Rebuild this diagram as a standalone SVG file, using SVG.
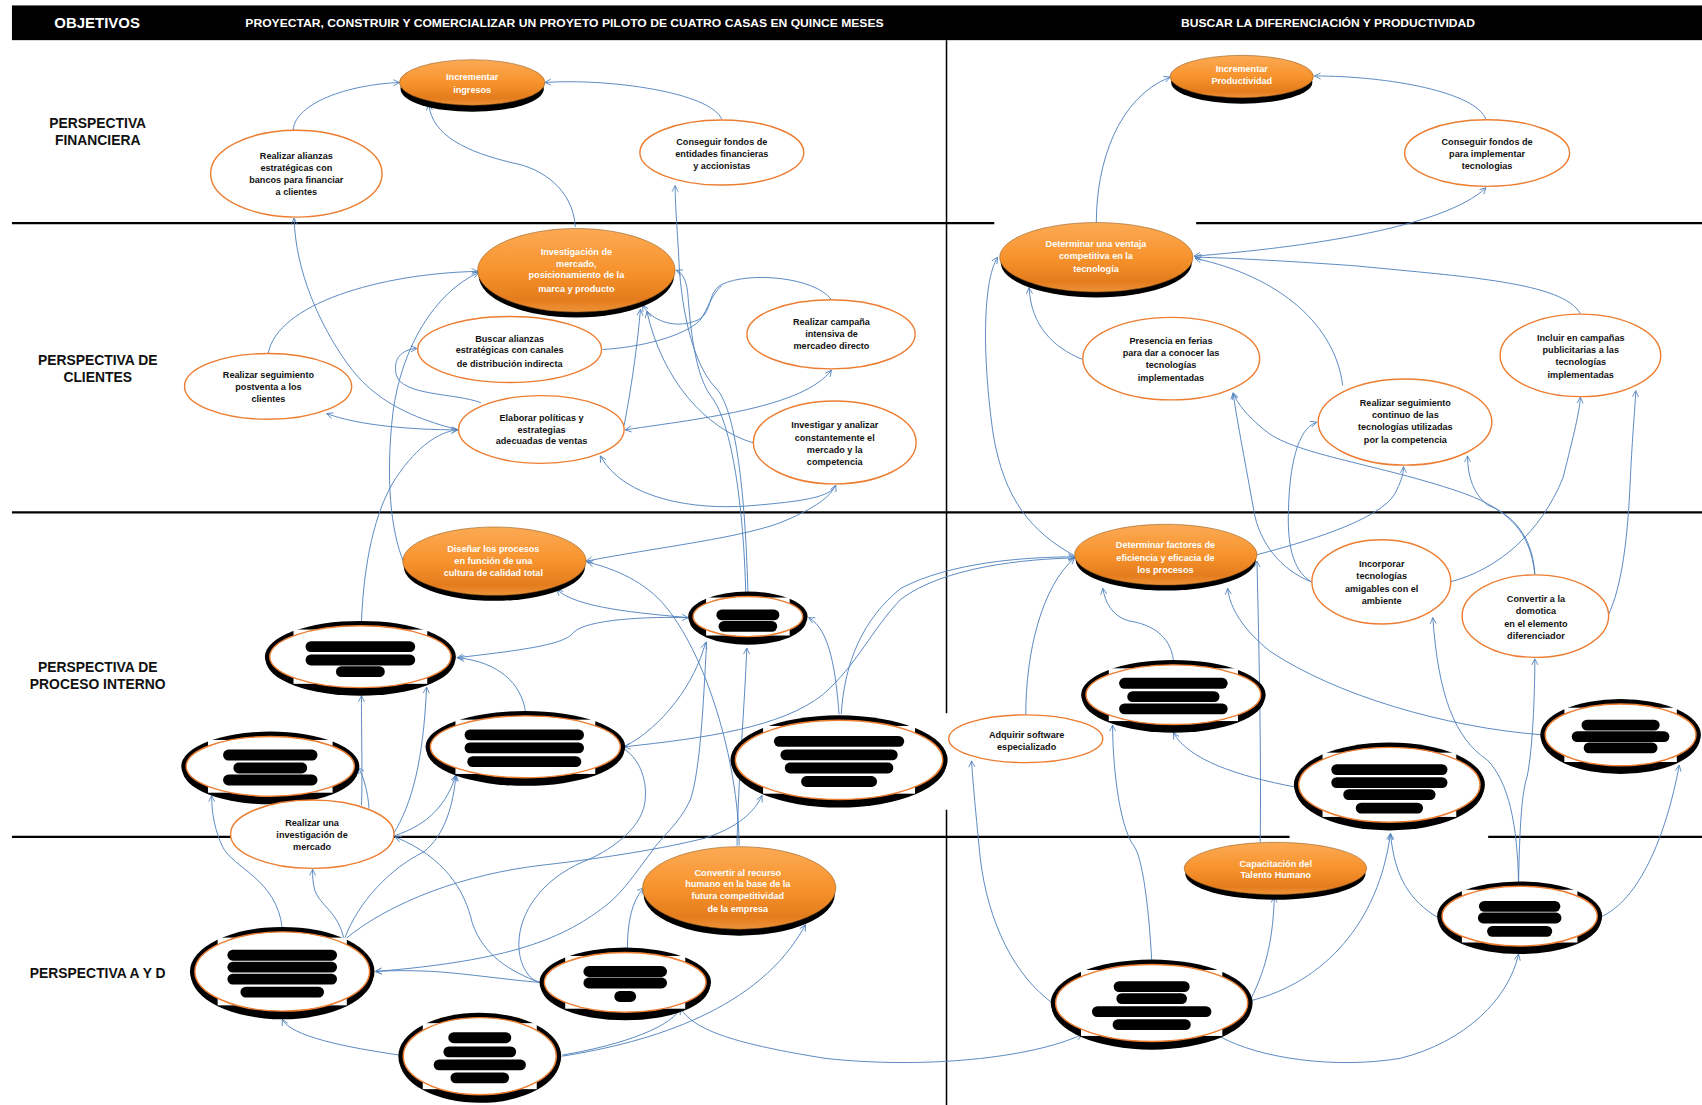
<svg xmlns="http://www.w3.org/2000/svg" width="1702" height="1105" viewBox="0 0 1702 1105">
<defs>
  <linearGradient id="og" x1="0" y1="0" x2="0" y2="1">
    <stop offset="0" stop-color="#FCAA55"/>
    <stop offset="0.5" stop-color="#F7932D"/>
    <stop offset="0.85" stop-color="#E47C1D"/>
    <stop offset="1" stop-color="#EE9238"/>
  </linearGradient>
  <marker id="ah" viewBox="0 0 10 10" refX="9" refY="5" markerWidth="7" markerHeight="7" markerUnits="userSpaceOnUse" orient="auto-start-reverse">
    <path d="M1,1 L9,5 L1,9" fill="none" stroke="#4F81BD" stroke-width="1.1"/>
  </marker>
  <style>
    .ln{stroke:#000;stroke-width:2;fill:none}
    .dv{stroke:#000;stroke-width:1.4;fill:none}
    .c{fill:none;stroke:#4F81BD;stroke-width:0.85}
    .e{marker-end:url(#ah)}
    .b{marker-start:url(#ah);marker-end:url(#ah)}
    .s{marker-start:url(#ah)}
    .sh{fill:#000}
    .or{fill:url(#og);stroke:#8a5316;stroke-width:0.5}
    .wn{fill:#fff;stroke:#ED7D31;stroke-width:1.3}
    .k{fill:#000}
    .wf{fill:#fff}
    .oi{fill:none;stroke:#ED7D31;stroke-width:1.3}
    .bl{fill:#000}
    .t{font-family:"Liberation Sans",Arial,sans-serif;font-size:8.4px;font-weight:bold;fill:#111;text-anchor:middle}
    .tw{fill:#fff}
    .lab{font-family:"Liberation Sans",Arial,sans-serif;font-size:12.8px;font-weight:bold;fill:#111;text-anchor:middle}
    .hd{font-family:"Liberation Sans",Arial,sans-serif;font-weight:bold;fill:#fff}
  </style>
</defs>
<rect width="1702" height="1105" fill="#fff"/>
<g transform="scale(1.085459)">

<!-- header bar -->
<g id="header">
  <rect x="11" y="5" width="1557" height="32" fill="#000"/>
  <text class="hd" x="50" y="26" font-size="13" textLength="79" lengthAdjust="spacingAndGlyphs">OBJETIVOS</text>
  <text class="hd" x="226" y="25" font-size="10.5" textLength="588" lengthAdjust="spacingAndGlyphs">PROYECTAR, CONSTRUIR Y COMERCIALIZAR UN PROYETO PILOTO DE CUATRO CASAS EN QUINCE MESES</text>
  <text class="hd" x="1088" y="25" font-size="10.5" textLength="271" lengthAdjust="spacingAndGlyphs">BUSCAR LA DIFERENCIACIÓN Y PRODUCTIVIDAD</text>
</g>

<!-- grid lines -->
<g id="grid">
  <path class="ln" d="M11,205.5 H916 M1102,205.5 H1568"/>
  <path class="ln" d="M11,472 H1568"/>
  <path class="ln" d="M11,771 H1188 M1371,771 H1568"/>
  <path class="dv" d="M872,37 V657 M872,746 V1018"/>
</g>

<!-- row labels -->
<g id="labels">
  <text class="lab" x="90" y="118">PERSPECTIVA</text>
  <text class="lab" x="90" y="134">FINANCIERA</text>
  <text class="lab" x="90" y="336">PERSPECTIVA DE</text>
  <text class="lab" x="90" y="352">CLIENTES</text>
  <text class="lab" x="90" y="619">PERSPECTIVA DE</text>
  <text class="lab" x="90" y="635">PROCESO INTERNO</text>
  <text class="lab" x="90" y="901">PERSPECTIVA A Y D</text>
</g>

<!-- connectors -->
<g id="connectors">
  <path class="c e" d="M270,120 C272,95 320,78 368,76"/>
  <path class="c e" d="M665,110 C655,85 560,72 502,76"/>
  <path class="c e" d="M530,209 C528,175 500,155 472,150 C430,140 398,125 395,96"/>
  <path class="c e" d="M689,545 C687,470 680,380 660,358 C642,340 630,300 626,250 C624,210 622,190 622,171"/>
  <path class="c e" d="M687,545 C685,470 675,390 655,365 C640,345 636,300 634,275 C633,260 630,252 623,249"/>
  <path class="c e" d="M1010,205 C1010,150 1030,90 1078,71"/>
  <path class="c e" d="M1369,110 C1360,85 1280,70 1211,70"/>
  <path class="c b" d="M1100,236 C1200,228 1330,210 1369,173"/>
  <path class="c e" d="M247,326 C255,280 350,252 440,250"/>
  <path class="c e" d="M422,396 C380,385 345,370 320,335 C295,300 272,250 271,201"/>
  <path class="c b" d="M301,381 C330,392 380,396 422,396"/>
  <path class="c e" d="M443,371 C420,362 370,365 365,345 C362,330 370,322 384,321"/>
  <path class="c e" d="M766,276 C750,255 690,250 665,262 C650,270 658,290 640,296 C620,303 600,295 592,281"/>
  <path class="c" d="M555,322 C590,320 630,310 645,295 C652,285 655,272 665,263"/>
  <path class="c e" d="M575,392 C583,350 588,310 590,285"/>
  <path class="c e" d="M694,408 C650,395 610,350 596,287"/>
  <path class="c b" d="M576,396 C650,385 740,375 766,341"/>
  <path class="c b" d="M553,420 C575,460 640,470 690,466 C740,462 765,458 770,447"/>
  <path class="c e" d="M333,573 C335,520 345,470 365,440 C385,410 405,398 421,396"/>
  <path class="c e" d="M372,518 C360,490 355,440 362,380 C370,320 400,270 441,251"/>
  <path class="c s" d="M540,517 C600,505 690,495 725,479 C750,468 765,458 769,448"/>
  <path class="c e" d="M681,779 C680,700 650,600 610,555 C590,533 560,522 541,518"/>
  <path class="c e" d="M679,779 C680,720 686,650 688,597"/>
  <path class="c e" d="M634,569 C590,565 530,560 513,543"/>
  <path class="c b" d="M421,606 C470,600 520,595 528,583 C540,570 600,568 634,569"/>
  <path class="c e" d="M773,658 C770,620 765,580 745,569"/>
  <path class="c e" d="M775,658 C778,610 795,570 830,542 C875,518 945,513 990,513"/>
  <path class="c b" d="M575,688 C650,680 720,670 758,640 C790,612 803,580 830,552 C870,522 945,515 990,514"/>
  <path class="c e" d="M575,688 C610,670 640,630 650,592"/>
  <path class="c" d="M575,690 C590,700 597,720 594,740 C590,765 560,785 537,794 C500,810 478,840 478,870 C478,890 488,903 497,905"/>
  <path class="c e" d="M484,655 C480,630 460,610 422,606"/>
  <path class="c e" d="M362,769 C380,740 390,700 393,633"/>
  <path class="c e" d="M363,770 C395,760 412,740 420,714"/>
  <path class="c e" d="M340,745 C339,730 335,715 330,707"/>
  <path class="c e" d="M333,742 C334,720 333,680 333,641"/>
  <path class="c e" d="M260,855 C255,810 215,800 205,780 C198,765 195,750 195,733"/>
  <path class="c e" d="M317,866 C312,840 295,835 290,820 C288,812 288,808 288,801"/>
  <path class="c e" d="M317,866 C330,830 360,800 390,785 C410,770 418,740 420,714"/>
  <path class="c e" d="M317,866 C360,830 430,805 500,797 C560,790 610,782 650,772 C680,762 695,748 702,733"/>
  <path class="c e" d="M651,591 C648,650 645,710 636,737 C625,760 610,770 600,785 C585,805 575,820 561,832 C520,865 470,885 346,895"/>
  <path class="c e" d="M497,905 C470,903 430,897 400,895 C380,894 360,894 346,895"/>
  <path class="c e" d="M497,905 C470,895 445,880 435,850 C428,820 410,790 364,771"/>
  <path class="c e" d="M578,874 C578,850 582,830 593,818"/>
  <path class="c e" d="M368,972 C320,965 268,955 260,939"/>
  <path class="c e" d="M518,972 C560,965 615,950 627,929"/>
  <path class="c e" d="M518,973 C600,960 700,930 742,852"/>
  <path class="c e" d="M627,929 C640,950 680,962 760,975 C850,985 950,975 997,953"/>
  <path class="c e" d="M971,925 C935,900 910,850 903,790 C898,740 896,715 895,701"/>
  <path class="c e" d="M1061,884 C1058,830 1052,790 1045,780 C1030,760 1025,700 1025,668"/>
  <path class="c e" d="M1152,921 C1168,890 1173,860 1174,826"/>
  <path class="c e" d="M1152,922 C1220,905 1270,850 1281,768"/>
  <path class="c e" d="M1324,845 C1300,830 1285,810 1281,768"/>
  <path class="c e" d="M1124,955 C1160,975 1230,985 1290,975 C1350,960 1390,920 1399,879"/>
  <path class="c e" d="M1161,776 C1162,700 1160,600 1158,517"/>
  <path class="c e" d="M1399,814 C1398,760 1390,720 1370,700 C1340,680 1325,640 1320,569"/>
  <path class="c e" d="M1399,814 C1400,760 1402,730 1407,715 C1412,690 1414,640 1414,607"/>
  <path class="c e" d="M1474,845 C1510,830 1535,770 1547,705"/>
  <path class="c e" d="M1421,677 C1330,670 1230,640 1170,600 C1145,580 1133,560 1131,542"/>
  <path class="c e" d="M1193,725 C1140,715 1095,700 1081,675"/>
  <path class="c e" d="M1081,608 C1078,585 1060,575 1040,572 C1025,568 1018,555 1016,542"/>
  <path class="c e" d="M945,659 C945,600 960,540 990,514"/>
  <path class="c e" d="M990,512 C950,490 925,460 915,400 C905,330 905,260 919,237"/>
  <path class="c e" d="M997,331 C970,320 950,300 948,265"/>
  <path class="c e" d="M1456,289 C1440,260 1350,255 1250,245 C1180,240 1120,237 1101,237"/>
  <path class="c e" d="M1237,355 C1230,300 1180,255 1101,238"/>
  <path class="c e" d="M1208,536 C1180,525 1160,500 1155,470 C1148,430 1140,390 1136,362"/>
  <path class="c e" d="M1414,529 C1410,490 1390,470 1350,455 C1280,430 1200,420 1170,400 C1150,385 1140,372 1136,362"/>
  <path class="c e" d="M1208,536 C1190,525 1186,500 1187,470 C1188,430 1195,395 1213,389"/>
  <path class="c e" d="M1158,511 C1200,500 1270,480 1285,455 C1290,445 1293,438 1293,430"/>
  <path class="c e" d="M1414,529 C1412,495 1395,475 1370,465 C1358,455 1352,440 1352,420"/>
  <path class="c e" d="M1336,536 C1380,525 1420,490 1440,440 C1450,400 1455,380 1456,366"/>
  <path class="c e" d="M1481,568 C1495,540 1500,490 1502,440 C1504,400 1506,380 1507,360"/>
</g>

<!-- financial perspective -->
<g id="n1">
  <ellipse class="sh" cx="435" cy="82" rx="66" ry="21"/>
  <ellipse class="or" cx="435" cy="76" rx="67" ry="21"/>
  <text class="t tw" x="435" y="74">Incrementar</text>
  <text class="t tw" x="435" y="85.5">ingresos</text>
</g>
<g id="n2">
  <ellipse class="wn" cx="273" cy="160" rx="79" ry="40"/>
  <text class="t" x="273" y="146.5">Realizar  alianzas</text>
  <text class="t" x="273" y="157.5">estratégicas con</text>
  <text class="t" x="273" y="168.5">bancos  para financiar</text>
  <text class="t" x="273" y="180">a clientes</text>
</g>
<g id="n3">
  <ellipse class="wn" cx="665" cy="140.5" rx="75.5" ry="30"/>
  <text class="t" x="665" y="133.5">Conseguir fondos de</text>
  <text class="t" x="665" y="144.5">entidades financieras</text>
  <text class="t" x="665" y="155.5">y accionistas</text>
</g>
<g id="n4">
  <ellipse class="sh" cx="1144" cy="76" rx="65" ry="19.5"/>
  <ellipse class="or" cx="1144" cy="70.5" rx="66" ry="19.5"/>
  <text class="t tw" x="1144" y="66.5">Incrementar</text>
  <text class="t tw" x="1144" y="77.5">Productividad</text>
</g>
<g id="n5">
  <ellipse class="wn" cx="1370" cy="141" rx="76" ry="30.7"/>
  <text class="t" x="1370" y="133.5">Conseguir fondos de</text>
  <text class="t" x="1370" y="144.5">para implementar</text>
  <text class="t" x="1370" y="155.5">tecnologias</text>
</g>

<!-- customer perspective -->
<g id="n6">
  <ellipse class="sh" cx="531" cy="254" rx="90" ry="38.5"/>
  <ellipse class="or" cx="531" cy="249" rx="91" ry="38.5"/>
  <text class="t tw" x="531" y="235">Investigación  de</text>
  <text class="t tw" x="531" y="245.6">mercado,</text>
  <text class="t tw" x="531" y="256.4">posicionamiento de la</text>
  <text class="t tw" x="531" y="268.6">marca y producto</text>
</g>
<g id="n7">
  <ellipse class="wn" cx="469.5" cy="322" rx="84.7" ry="30.4"/>
  <text class="t" x="469.5" y="314.7">Buscar  alianzas</text>
  <text class="t" x="469.5" y="325.4">estratégicas con canales</text>
  <text class="t" x="469.5" y="337.7">de distribución indirecta</text>
</g>
<g id="n8">
  <ellipse class="wn" cx="765.6" cy="308" rx="77.5" ry="31.8"/>
  <text class="t" x="766" y="299.3">Realizar  campaña</text>
  <text class="t" x="766" y="310.7">intensiva de</text>
  <text class="t" x="766" y="321.8">mercadeo directo</text>
</g>
<g id="n9">
  <ellipse class="wn" cx="247" cy="356" rx="77" ry="30.3"/>
  <text class="t" x="247.3" y="348.5">Realizar  seguimiento</text>
  <text class="t" x="247.3" y="359.2">postventa a los</text>
  <text class="t" x="247.3" y="370.6">clientes</text>
</g>
<g id="n10">
  <ellipse class="wn" cx="498.7" cy="395.7" rx="76.3" ry="31.2"/>
  <text class="t" x="498.9" y="387.5">Elaborar  políticas y</text>
  <text class="t" x="498.9" y="398.5">estrategias</text>
  <text class="t" x="498.9" y="409">adecuadas  de ventas</text>
</g>
<g id="n11">
  <ellipse class="wn" cx="769" cy="407.6" rx="75" ry="38.2"/>
  <text class="t" x="769" y="394.5">Investigar  y analizar</text>
  <text class="t" x="769" y="405.9">constantemente el</text>
  <text class="t" x="769" y="416.9">mercado y la</text>
  <text class="t" x="769" y="428.3">competencia</text>
</g>
<g id="n12">
  <ellipse class="sh" cx="1010" cy="242" rx="88" ry="32"/>
  <ellipse class="or" cx="1010" cy="237" rx="89" ry="32"/>
  <text class="t tw" x="1009.7" y="227.8">Determinar una ventaja</text>
  <text class="t tw" x="1009.7" y="238.8">competitiva en la</text>
  <text class="t tw" x="1009.7" y="250.2">tecnología</text>
</g>
<g id="n13">
  <ellipse class="wn" cx="1079" cy="330.4" rx="81.5" ry="38"/>
  <text class="t" x="1078.8" y="317">Presencia en ferias</text>
  <text class="t" x="1078.8" y="328">para dar a conocer las</text>
  <text class="t" x="1078.8" y="339">tecnologías</text>
  <text class="t" x="1078.8" y="351">implementadas</text>
</g>
<g id="n14">
  <ellipse class="wn" cx="1456" cy="327.4" rx="74" ry="38"/>
  <text class="t" x="1456.3" y="314.4">Incluir  en campañas</text>
  <text class="t" x="1456.3" y="325.4">publicitarias  a las</text>
  <text class="t" x="1456.3" y="336.5">tecnologías</text>
  <text class="t" x="1456.3" y="348.5">implementadas</text>
</g>
<g id="n15">
  <ellipse class="wn" cx="1294.4" cy="388.8" rx="80" ry="39.7"/>
  <text class="t" x="1294.7" y="374.3">Realizar  seguimiento</text>
  <text class="t" x="1294.7" y="385.3">continuo de las</text>
  <text class="t" x="1294.7" y="396.4">tecnologías  utilizadas</text>
  <text class="t" x="1294.7" y="408.3">por la competencia</text>
</g>

<!-- internal process perspective -->
<g id="n16">
  <ellipse class="sh" cx="455.5" cy="522" rx="83.5" ry="31.5"/>
  <ellipse class="or" cx="455.5" cy="517" rx="84.5" ry="31.5"/>
  <text class="t tw" x="454.5" y="509">Diseñar los procesos</text>
  <text class="t tw" x="454.5" y="519.8">en función  de una</text>
  <text class="t tw" x="454.5" y="530.6">cultura de calidad  total</text>
</g>
<g id="n17">
  <ellipse class="k" cx="689" cy="571" rx="54" ry="23"/>
  <ellipse class="k" cx="689" cy="568" rx="55" ry="23"/>
  <ellipse class="wf" cx="689" cy="568" rx="50.5" ry="18.5"/>
  <rect class="wf" x="650.5" y="550.5" width="77" height="35"/>
  <ellipse class="oi" cx="689" cy="568" rx="50.5" ry="18.5"/>
  <rect class="bl" x="660" y="561.5" width="58" height="10" rx="5"/>
  <rect class="bl" x="662" y="572" width="54" height="10" rx="5"/>
</g>
<g id="n18">
  <ellipse class="k" cx="332" cy="608" rx="87" ry="33"/>
  <ellipse class="k" cx="332" cy="605" rx="88" ry="33"/>
  <ellipse class="wf" cx="332" cy="605" rx="83.5" ry="28.5"/>
  <rect class="wf" x="270.4" y="580" width="123.2" height="50"/>
  <ellipse class="oi" cx="332" cy="605" rx="83.5" ry="28.5"/>
  <rect class="bl" x="281.5" y="590.7" width="101" height="10" rx="5"/>
  <rect class="bl" x="281.5" y="603" width="101" height="10" rx="5"/>
  <rect class="bl" x="309.5" y="613.8" width="45" height="10" rx="5"/>
</g>
<g id="n19">
  <ellipse class="k" cx="249" cy="709" rx="81" ry="32"/>
  <ellipse class="k" cx="249" cy="706" rx="82" ry="32"/>
  <ellipse class="wf" cx="249" cy="706" rx="77.5" ry="27.5"/>
  <rect class="wf" x="191.6" y="681.7" width="114.8" height="48.6"/>
  <ellipse class="oi" cx="249" cy="706" rx="77.5" ry="27.5"/>
  <rect class="bl" x="205.5" y="690.6" width="87" height="10" rx="5"/>
  <rect class="bl" x="215" y="702.5" width="68" height="10" rx="5"/>
  <rect class="bl" x="205.5" y="713.6" width="87" height="10" rx="5"/>
</g>
<g id="n20">
  <ellipse class="k" cx="484" cy="691" rx="91" ry="33"/>
  <ellipse class="k" cx="484" cy="688" rx="92" ry="33"/>
  <ellipse class="wf" cx="484" cy="688" rx="87.5" ry="28.5"/>
  <rect class="wf" x="419.6" y="663" width="128.8" height="50"/>
  <ellipse class="oi" cx="484" cy="688" rx="87.5" ry="28.5"/>
  <rect class="bl" x="428" y="672" width="110" height="10" rx="5"/>
  <rect class="bl" x="428" y="684" width="110" height="10" rx="5"/>
  <rect class="bl" x="430.5" y="696.7" width="105" height="10" rx="5"/>
</g>
<g id="n21">
  <ellipse class="k" cx="773" cy="703" rx="99" ry="41"/>
  <ellipse class="k" cx="773" cy="700" rx="100" ry="41"/>
  <ellipse class="wf" cx="773" cy="700" rx="95.5" ry="36.5"/>
  <rect class="wf" x="703" y="668.8" width="140" height="62.4"/>
  <ellipse class="oi" cx="773" cy="700" rx="95.5" ry="36.5"/>
  <rect class="bl" x="713" y="678" width="120" height="10" rx="5"/>
  <rect class="bl" x="719" y="690.5" width="108" height="10" rx="5"/>
  <rect class="bl" x="723" y="702.5" width="100" height="10" rx="5"/>
  <rect class="bl" x="738" y="715" width="70" height="10" rx="5"/>
</g>
<g id="n22">
  <ellipse class="wn" cx="287.7" cy="768.5" rx="75.3" ry="31.5"/>
  <text class="t" x="287.5" y="761">Realizar  una</text>
  <text class="t" x="287.5" y="772">investigación  de</text>
  <text class="t" x="287.5" y="783">mercado</text>
</g>
<g id="n23">
  <ellipse class="wn" cx="945" cy="680.6" rx="71" ry="22"/>
  <text class="t" x="945.8" y="679.5">Adquirir  software</text>
  <text class="t" x="945.8" y="690.9">especializado</text>
</g>
<g id="n24">
  <ellipse class="sh" cx="1074" cy="516" rx="83" ry="28"/>
  <ellipse class="or" cx="1074" cy="511" rx="84" ry="28"/>
  <text class="t tw" x="1073.7" y="505">Determinar factores de</text>
  <text class="t tw" x="1073.7" y="516.4">eficiencia y eficacia  de</text>
  <text class="t tw" x="1073.7" y="527.5">los procesos</text>
</g>
<g id="n25">
  <ellipse class="wn" cx="1272.6" cy="536" rx="64" ry="38.8"/>
  <text class="t" x="1272.9" y="522.6">Incorporar</text>
  <text class="t" x="1272.9" y="533.6">tecnologías</text>
  <text class="t" x="1272.9" y="545">amigables  con el</text>
  <text class="t" x="1272.9" y="556.4">ambiente</text>
</g>
<g id="n26">
  <ellipse class="wn" cx="1414.5" cy="567.6" rx="67.5" ry="38"/>
  <text class="t" x="1415" y="554.8">Convertir a la</text>
  <text class="t" x="1415" y="565.9">domotica</text>
  <text class="t" x="1415" y="577.2">en el elemento</text>
  <text class="t" x="1415" y="588.6">diferenciador</text>
</g>
<g id="n27">
  <ellipse class="k" cx="1081" cy="643" rx="84" ry="32"/>
  <ellipse class="k" cx="1081" cy="640" rx="85" ry="32"/>
  <ellipse class="wf" cx="1081" cy="640" rx="80.5" ry="27.5"/>
  <rect class="wf" x="1021.5" y="615.7" width="119" height="48.6"/>
  <ellipse class="oi" cx="1081" cy="640" rx="80.5" ry="27.5"/>
  <rect class="bl" x="1031" y="624.5" width="100" height="10" rx="5"/>
  <rect class="bl" x="1038.5" y="636.8" width="85" height="10" rx="5"/>
  <rect class="bl" x="1031" y="648" width="100" height="10" rx="5"/>
</g>
<g id="n28">
  <ellipse class="k" cx="1280" cy="726" rx="87" ry="39"/>
  <ellipse class="k" cx="1280" cy="723" rx="88" ry="39"/>
  <ellipse class="wf" cx="1280" cy="723" rx="83.5" ry="34.5"/>
  <rect class="wf" x="1218.4" y="693.4" width="123.2" height="59.2"/>
  <ellipse class="oi" cx="1280" cy="723" rx="83.5" ry="34.5"/>
  <rect class="bl" x="1226.5" y="704" width="107" height="10" rx="5"/>
  <rect class="bl" x="1226.5" y="716" width="107" height="10" rx="5"/>
  <rect class="bl" x="1237.5" y="727" width="85" height="10" rx="5"/>
  <rect class="bl" x="1249" y="739.5" width="62" height="10" rx="5"/>
</g>
<g id="n29">
  <ellipse class="k" cx="1493" cy="680" rx="73" ry="33"/>
  <ellipse class="k" cx="1493" cy="677" rx="74" ry="33"/>
  <ellipse class="wf" cx="1493" cy="677" rx="69.5" ry="28.5"/>
  <rect class="wf" x="1441.2" y="652" width="103.6" height="50"/>
  <ellipse class="oi" cx="1493" cy="677" rx="69.5" ry="28.5"/>
  <rect class="bl" x="1457" y="663" width="72" height="10" rx="5"/>
  <rect class="bl" x="1448" y="673.6" width="90" height="10" rx="5"/>
  <rect class="bl" x="1459" y="684" width="68" height="10" rx="5"/>
</g>

<!-- learning and growth perspective -->
<g id="n30">
  <ellipse class="sh" cx="681" cy="824" rx="88" ry="38"/>
  <ellipse class="or" cx="681" cy="818" rx="89" ry="38"/>
  <text class="t tw" x="679.7" y="806.6">Convertir al recurso</text>
  <text class="t tw" x="679.7" y="817.4">humano en la base de la</text>
  <text class="t tw" x="679.7" y="828.4">futura competitividad</text>
  <text class="t tw" x="679.7" y="840.1">de la empresa</text>
</g>
<g id="n31">
  <ellipse class="sh" cx="1175" cy="805" rx="83" ry="24"/>
  <ellipse class="or" cx="1175" cy="800" rx="84" ry="24"/>
  <text class="t tw" x="1175.3" y="798.3">Capacitación  del</text>
  <text class="t tw" x="1175.3" y="809.1">Talento Humano</text>
</g>
<g id="n32">
  <ellipse class="k" cx="260" cy="898" rx="84" ry="41"/>
  <ellipse class="k" cx="260" cy="895" rx="85" ry="41"/>
  <ellipse class="wf" cx="260" cy="895" rx="80.5" ry="36.5"/>
  <rect class="wf" x="200.5" y="863.8" width="119" height="62.4"/>
  <ellipse class="oi" cx="260" cy="895" rx="80.5" ry="36.5"/>
  <rect class="bl" x="209.5" y="875" width="101" height="10" rx="5"/>
  <rect class="bl" x="209.5" y="886" width="101" height="10" rx="5"/>
  <rect class="bl" x="209.5" y="897" width="101" height="10" rx="5"/>
  <rect class="bl" x="221.5" y="909" width="77" height="10" rx="5"/>
</g>
<g id="n33">
  <ellipse class="k" cx="576" cy="908" rx="78" ry="32"/>
  <ellipse class="k" cx="576" cy="905" rx="79" ry="32"/>
  <ellipse class="wf" cx="576" cy="905" rx="74.5" ry="27.5"/>
  <rect class="wf" x="520.7" y="880.7" width="110.6" height="48.6"/>
  <ellipse class="oi" cx="576" cy="905" rx="74.5" ry="27.5"/>
  <rect class="bl" x="537.5" y="890" width="77" height="10" rx="5"/>
  <rect class="bl" x="537.5" y="900.6" width="77" height="10" rx="5"/>
  <rect class="bl" x="566" y="913" width="20" height="10" rx="5"/>
</g>
<g id="n34">
  <ellipse class="k" cx="1061" cy="927" rx="92" ry="40"/>
  <ellipse class="k" cx="1061" cy="924" rx="93" ry="40"/>
  <ellipse class="wf" cx="1061" cy="924" rx="88.5" ry="35.5"/>
  <rect class="wf" x="995.9" y="893.6" width="130.2" height="60.8"/>
  <ellipse class="oi" cx="1061" cy="924" rx="88.5" ry="35.5"/>
  <rect class="bl" x="1026" y="904" width="70" height="10" rx="5"/>
  <rect class="bl" x="1028.5" y="915" width="65" height="10" rx="5"/>
  <rect class="bl" x="1006" y="927" width="110" height="10" rx="5"/>
  <rect class="bl" x="1025" y="939" width="72" height="10" rx="5"/>
</g>
<g id="n35">
  <ellipse class="k" cx="1400" cy="847" rx="75" ry="32"/>
  <ellipse class="k" cx="1400" cy="844" rx="76" ry="32"/>
  <ellipse class="wf" cx="1400" cy="844" rx="71.5" ry="27.5"/>
  <rect class="wf" x="1346.8" y="819.7" width="106.4" height="48.6"/>
  <ellipse class="oi" cx="1400" cy="844" rx="71.5" ry="27.5"/>
  <rect class="bl" x="1362.5" y="830" width="75" height="10" rx="5"/>
  <rect class="bl" x="1361.5" y="840.7" width="77" height="10" rx="5"/>
  <rect class="bl" x="1370" y="853" width="60" height="10" rx="5"/>
</g>
<g id="n36">
  <ellipse class="k" cx="442" cy="976" rx="74" ry="40"/>
  <ellipse class="k" cx="442" cy="973" rx="75" ry="40"/>
  <ellipse class="wf" cx="442" cy="973" rx="70.5" ry="35.5"/>
  <rect class="wf" x="389.5" y="942.6" width="105" height="60.8"/>
  <ellipse class="oi" cx="442" cy="973" rx="70.5" ry="35.5"/>
  <rect class="bl" x="413" y="951" width="58" height="10" rx="5"/>
  <rect class="bl" x="408.5" y="964" width="67" height="10" rx="5"/>
  <rect class="bl" x="399.5" y="976" width="85" height="10" rx="5"/>
  <rect class="bl" x="415" y="988" width="54" height="10" rx="5"/>
</g>

</g>
</svg>
